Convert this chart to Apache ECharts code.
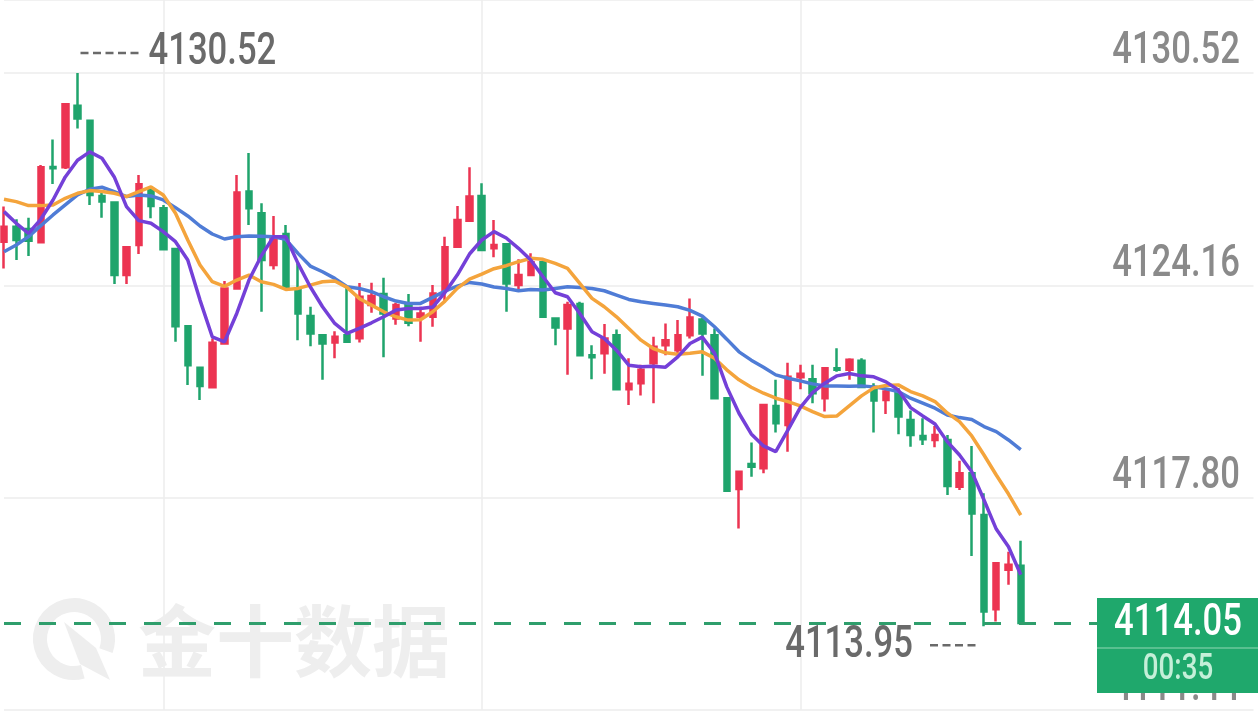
<!DOCTYPE html>
<html>
<head>
<meta charset="utf-8">
<style>
  html, body { margin: 0; padding: 0; background: #fff; }
  #chart { width: 1260px; height: 714px; }
</style>
<script src="https://cdn.jsdelivr.net/npm/echarts@6/dist/echarts.min.js"></script>
</head>
<body>
<div id="chart"></div>
<script>
// ── Data ──────────────────────────────────────────────────────────────────────

// one slot per minute; the chart leaves empty room on the right
const SLOT_COUNT = 103;
const categories = [];
for (let i = 0; i < SLOT_COUNT; i++) categories.push(String(i + 1));

// [open, close, lowest, highest]
const candles = [
  [4125.47, 4125.92, 4124.67, 4126.52], [4125.92, 4125.52, 4124.92, 4126.14],
  [4125.85, 4125.50, 4125.04, 4126.19], [4125.45, 4127.70, 4125.42, 4127.77],
  [4127.71, 4127.67, 4127.20, 4128.53], [4127.70, 4129.59, 4127.65, 4129.62],
  [4129.54, 4129.16, 4128.86, 4130.52], [4129.09, 4126.87, 4126.57, 4129.12],
  [4126.84, 4126.67, 4126.19, 4126.97], [4126.64, 4124.47, 4124.20, 4126.66],
  [4124.47, 4125.30, 4124.20, 4125.32], [4125.37, 4127.19, 4125.10, 4127.47],
  [4127.02, 4126.54, 4126.17, 4127.14], [4126.47, 4125.24, 4125.22, 4126.57],
  [4125.25, 4122.94, 4122.47, 4125.27], [4122.94, 4121.77, 4121.18, 4122.96],
  [4121.69, 4121.15, 4120.73, 4121.72], [4121.11, 4122.44, 4121.09, 4122.57],
  [4122.42, 4124.07, 4122.40, 4124.29], [4124.07, 4126.94, 4124.05, 4127.47],
  [4126.97, 4126.47, 4125.97, 4128.13], [4126.32, 4124.92, 4123.37, 4126.62],
  [4124.77, 4125.62, 4124.64, 4126.24], [4125.70, 4124.12, 4124.10, 4125.97],
  [4124.02, 4123.32, 4122.52, 4124.82], [4123.24, 4122.72, 4122.34, 4123.52],
  [4122.67, 4122.42, 4121.33, 4122.69], [4122.45, 4122.62, 4121.98, 4122.79],
  [4122.67, 4122.47, 4122.44, 4124.12], [4122.58, 4123.82, 4122.45, 4124.23],
  [4123.57, 4123.84, 4123.34, 4124.24], [4123.90, 4123.32, 4122.01, 4124.39],
  [4123.17, 4123.57, 4122.98, 4123.64], [4123.62, 4123.04, 4122.94, 4123.90],
  [4123.22, 4123.32, 4122.47, 4123.52], [4123.22, 4123.92, 4122.92, 4124.17],
  [4124.02, 4125.30, 4123.67, 4125.62], [4125.32, 4126.12, 4125.30, 4126.54],
  [4126.10, 4126.82, 4126.08, 4127.70], [4126.84, 4125.22, 4125.20, 4127.22],
  [4125.27, 4125.37, 4125.00, 4126.12], [4125.39, 4124.22, 4123.37, 4125.40],
  [4124.17, 4124.47, 4124.04, 4124.94], [4124.47, 4124.85, 4124.45, 4125.12],
  [4124.85, 4123.22, 4123.20, 4124.87], [4123.17, 4122.90, 4122.37, 4123.19],
  [4122.87, 4123.57, 4121.48, 4123.67], [4123.60, 4122.07, 4122.05, 4123.67],
  [4122.07, 4122.01, 4121.35, 4122.37], [4122.13, 4122.57, 4121.51, 4123.00],
  [4122.67, 4121.05, 4121.03, 4122.84], [4121.05, 4121.21, 4120.58, 4121.98],
  [4121.23, 4121.63, 4120.86, 4121.78], [4121.83, 4122.32, 4120.63, 4122.62],
  [4122.37, 4122.52, 4122.07, 4123.02], [4122.22, 4122.67, 4122.12, 4123.12],
  [4122.67, 4123.20, 4122.57, 4123.77], [4123.14, 4122.72, 4121.45, 4123.20],
  [4122.67, 4120.78, 4120.75, 4122.87], [4120.78, 4118.01, 4117.99, 4120.80],
  [4118.06, 4118.58, 4116.88, 4118.60], [4118.81, 4118.73, 4118.43, 4119.45],
  [4118.68, 4120.58, 4118.53, 4120.60], [4120.55, 4120.03, 4119.75, 4121.33],
  [4119.98, 4121.42, 4119.18, 4121.84], [4121.41, 4121.51, 4121.05, 4121.78],
  [4121.35, 4120.93, 4120.63, 4121.78], [4120.78, 4121.68, 4120.38, 4121.71],
  [4121.68, 4121.63, 4121.57, 4122.28], [4121.63, 4121.93, 4121.33, 4121.98],
  [4121.90, 4121.12, 4121.10, 4121.98], [4121.12, 4120.71, 4119.75, 4121.23],
  [4120.73, 4120.98, 4120.31, 4121.05], [4120.93, 4120.23, 4119.70, 4121.08],
  [4120.13, 4119.68, 4119.33, 4120.41], [4119.65, 4119.55, 4119.38, 4120.18],
  [4119.53, 4119.68, 4119.31, 4119.95], [4119.53, 4118.15, 4117.88, 4119.68],
  [4118.13, 4118.53, 4118.03, 4118.91], [4118.53, 4117.33, 4116.05, 4119.35],
  [4117.28, 4114.39, 4113.95, 4117.93], [4114.46, 4115.84, 4114.09, 4115.87],
  [4115.64, 4115.79, 4115.19, 4116.18], [4115.76, 4114.05, 4114.05, 4116.51]
];

const ma5 = [
  4126.37, 4126.02, 4125.72, 4126.14, 4126.72, 4127.41, 4127.91, 4128.16, 4127.97, 4127.41,
  4126.52, 4126.10, 4126.02, 4125.77, 4125.47, 4124.92, 4123.72, 4122.62, 4122.47, 4123.32,
  4124.32, 4125.04, 4125.62, 4125.62, 4124.82, 4124.12, 4123.52, 4123.02, 4122.72, 4122.87,
  4123.04, 4123.22, 4123.42, 4123.47, 4123.47, 4123.51, 4123.95, 4124.47, 4125.10, 4125.52,
  4125.77, 4125.58, 4125.27, 4124.92, 4124.42, 4123.94, 4123.82, 4123.32, 4122.77, 4122.57,
  4122.22, 4121.77, 4121.72, 4121.74, 4121.71, 4122.02, 4122.42, 4122.61, 4122.13, 4121.12,
  4120.33, 4119.71, 4119.35, 4119.18, 4119.83, 4120.50, 4120.95, 4121.23, 4121.45, 4121.52,
  4121.45, 4121.42, 4121.27, 4121.03, 4120.50, 4120.25, 4120.01, 4119.48, 4119.08, 4118.58,
  4117.73, 4116.86, 4116.33, 4115.49
];

const ma10 = [
  4126.74, 4126.67, 4126.55, 4126.55, 4126.57, 4126.77, 4126.92, 4127.00, 4126.97, 4126.92,
  4126.82, 4126.97, 4127.11, 4126.87, 4126.32, 4125.52, 4124.77, 4124.27, 4124.13, 4124.32,
  4124.47, 4124.27, 4124.19, 4124.04, 4124.07, 4124.17, 4124.27, 4124.29, 4124.10, 4123.77,
  4123.57, 4123.37, 4123.22, 4123.12, 4123.13, 4123.37, 4123.69, 4124.07, 4124.35, 4124.50,
  4124.66, 4124.75, 4124.87, 4124.97, 4124.94, 4124.82, 4124.67, 4124.22, 4123.77, 4123.52,
  4123.22, 4122.87, 4122.52, 4122.27, 4122.14, 4122.10, 4122.13, 4122.17, 4121.98, 4121.63,
  4121.33, 4121.11, 4120.93, 4120.78, 4120.68, 4120.55, 4120.38, 4120.23, 4120.25, 4120.55,
  4120.85, 4121.09, 4121.16, 4121.18, 4120.98, 4120.85, 4120.68, 4120.34, 4120.08, 4119.65,
  4119.08, 4118.48, 4117.91, 4117.28
];

const ma20 = [
  4125.17, 4125.37, 4125.62, 4125.95, 4126.27, 4126.57, 4126.87, 4127.04, 4127.10, 4126.97,
  4126.82, 4126.87, 4126.84, 4126.72, 4126.49, 4126.24, 4125.94, 4125.70, 4125.55, 4125.62,
  4125.64, 4125.63, 4125.62, 4125.54, 4125.12, 4124.74, 4124.57, 4124.37, 4124.12, 4124.07,
  4123.97, 4123.82, 4123.69, 4123.62, 4123.62, 4123.80, 4123.99, 4124.14, 4124.25, 4124.20,
  4124.11, 4124.07, 4124.00, 4124.04, 4124.02, 4124.07, 4124.12, 4124.10, 4124.07, 4124.00,
  4123.87, 4123.74, 4123.67, 4123.62, 4123.57, 4123.52, 4123.41, 4123.24, 4122.92, 4122.55,
  4122.17, 4121.92, 4121.71, 4121.48, 4121.38, 4121.30, 4121.21, 4121.15, 4121.15, 4121.14,
  4121.15, 4121.12, 4121.06, 4120.98, 4120.78, 4120.63, 4120.48, 4120.28, 4120.20, 4120.14,
  4119.93, 4119.78, 4119.53, 4119.24
];

// price scale shown on the right
const Y_MIN = 4111.44;
const Y_MAX = 4132.71;
const Y_STEP = 6.36;
const yTickLabels = ['4111.44', '4117.80', '4124.16', '4130.52'];

const lastClose = candles[candles.length - 1][1];
const countdown = '00:35';

// ── Style ─────────────────────────────────────────────────────────────────────

// the app uses a condensed face; Roboto squeezed horizontally stands in for it
const FONT = 'Roboto, sans-serif';
const SQUEEZE = 0.77;
const UP = '#ec3452';
const DOWN = '#1fa46c';
const GRID_COLOR = '#ececec';

const chart = echarts.init(document.getElementById('chart'), null, { renderer: 'canvas' });

chart.setOption({
  animation: false,
  backgroundColor: '#ffffff',
  grid: { left: 4, right: 6.5, top: 0, bottom: 4 },
  xAxis: {
    type: 'category',
    data: categories,
    boundaryGap: false,
    axisLine: { show: false },
    axisTick: { show: false },
    axisLabel: { show: false },
    splitLine: {
      show: true,
      interval: i => i % 26 === 13 && i < 80,
      lineStyle: { color: GRID_COLOR, width: 1.5 }
    }
  },
  yAxis: {
    type: 'value',
    position: 'right',
    min: Y_MIN,
    max: Y_MAX,
    interval: Y_STEP,
    axisLine: { show: false },
    axisTick: { show: false },
    axisLabel: { show: false },
    splitLine: { lineStyle: { color: GRID_COLOR, width: 1.5 } }
  },
  series: [
    {
      type: 'candlestick',
      data: candles,
      barWidth: 6,
      itemStyle: { color: UP, color0: DOWN, borderColor: UP, borderColor0: DOWN, borderWidth: 2.5 },
      markLine: {
        symbol: 'none',
        silent: true,
        label: { show: false },
        lineStyle: { color: '#2f9e6c', width: 3, type: [17, 18] },
        data: [{ yAxis: lastClose }]
      }
    },
    { type: 'line', data: ma20, showSymbol: false, z: 3, lineStyle: { color: '#4f7cd6', width: 3.5 } },
    { type: 'line', data: ma10, showSymbol: false, z: 3, lineStyle: { color: '#f4a43c', width: 3.5 } },
    { type: 'line', data: ma5,  showSymbol: false, z: 3, lineStyle: { color: '#7440d8', width: 3.5 } }
  ]
});

// ── Overlays: labels, extremes, watermark, last price tag ────────────────────

function squeezedText(x, y, text, align, fontSize, fill, z) {
  return {
    type: 'text', x, y, scaleX: SQUEEZE, z: z || 50, silent: true,
    style: { text, x: 0, y: 0, fill, fontSize, fontWeight: 500, fontFamily: FONT, align, verticalAlign: 'middle' }
  };
}

// highest high / lowest low
let hiIdx = 0, loIdx = 0;
candles.forEach((c, i) => {
  if (c[3] > candles[hiIdx][3]) hiIdx = i;
  if (c[2] < candles[loIdx][2]) loIdx = i;
});
const hiPt = chart.convertToPixel({ xAxisIndex: 0, yAxisIndex: 0 }, [hiIdx, candles[hiIdx][3]]);
const loPt = chart.convertToPixel({ xAxisIndex: 0, yAxisIndex: 0 }, [loIdx, candles[loIdx][2]]);
const yLast = chart.convertToPixel({ yAxisIndex: 0 }, lastClose);

const graphics = [];

// axis labels sit just above their grid lines, right aligned
yTickLabels.forEach(t => {
  const y = chart.convertToPixel({ yAxisIndex: 0 }, Number(t));
  graphics.push(squeezedText(1240, y - 21, t, 'right', 45, '#8a8a8a', 40));
});

// max marker
graphics.push({
  type: 'line', silent: true, z: 50,
  shape: { x1: hiPt[0] + 3, y1: hiPt[1] - 20, x2: hiPt[0] + 65, y2: hiPt[1] - 20 },
  style: { stroke: '#6a6a6a', lineWidth: 2.5, lineDash: [8, 4.5] }
});
graphics.push(squeezedText(hiPt[0] + 71, hiPt[1] - 20, candles[hiIdx][3].toFixed(2), 'left', 45, '#6a6a6a'));

// min marker
graphics.push({
  type: 'line', silent: true, z: 50,
  shape: { x1: loPt[0] - 54, y1: loPt[1] + 19, x2: loPt[0] - 7, y2: loPt[1] + 19 },
  style: { stroke: '#6a6a6a', lineWidth: 2.5, lineDash: [8, 4.5] }
});
graphics.push(squeezedText(loPt[0] - 71, loPt[1] + 20, candles[loIdx][2].toFixed(2), 'right', 45, '#6a6a6a'));

// watermark
const WM = '#eeeeee';
graphics.push(
  {
    type: 'arc', z: 0, silent: true,
    shape: { cx: 74, cy: 639, r: 34, startAngle: 75 * Math.PI / 180, endAngle: 380 * Math.PI / 180 },
    style: { stroke: WM, lineWidth: 14, fill: null }
  },
  {
    type: 'polygon', z: 0, silent: true,
    shape: { points: [[64, 622], [96, 648], [110, 680], [80, 664]] },
    style: { fill: WM }
  },
  {
    type: 'text', z: 0, silent: true,
    style: { text: '金十数据', x: 138, y: 641, fill: WM, fontSize: 78, fontWeight: 'bold', fontFamily: 'Noto Sans CJK SC', verticalAlign: 'middle' }
  }
);

// price tag
graphics.push(
  {
    type: 'rect', z: 100, silent: true,
    shape: { x: 1097, y: yLast - 25, width: 161, height: 95 },
    style: { fill: '#1fa86c' }
  },
  {
    type: 'line', z: 101, silent: true,
    shape: { x1: 1097, y1: yLast + 25, x2: 1258, y2: yLast + 25 },
    style: { stroke: '#6cc99c', lineWidth: 1.5 }
  },
  squeezedText(1178, yLast + 1, lastClose.toFixed(2), 'center', 45, '#ffffff', 102),
  squeezedText(1178, yLast + 47, countdown, 'center', 36, '#c4efd8', 102)
);

chart.setOption({ graphic: graphics });
</script>
</body>
</html>
